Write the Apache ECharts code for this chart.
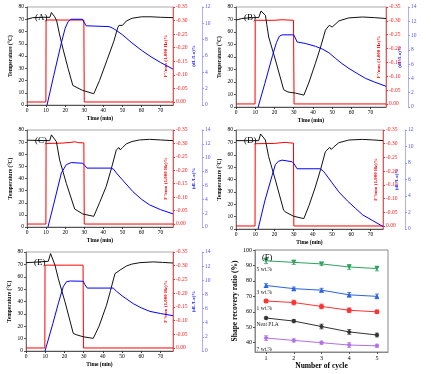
<!DOCTYPE html>
<html><head><meta charset="utf-8">
<script src="https://cdn.jsdelivr.net/npm/echarts@6/dist/echarts.min.js"></script>
<style>html,body{margin:0;padding:0;background:#fff}#c{width:431px;height:374px}</style>
</head><body><div id="c"></div>
<script>
// ---- Panels A-E: [time (min), value] ----
const tempA = [[0,70],[3,71.3],[8,71.6],[12,71.6],[12.8,75.5],[13.6,74.5],[14.5,72],[15.5,69],[17,58],[19,45],[21.5,30],[24,16],[25,14.5],[29,12],[30,11.5],[35,9.2],[38,20],[42,37],[45.5,52],[47.5,63],[48.2,65],[48.8,63.5],[50,65],[52,68.5],[55,70.8],[60,72],[65,72],[70,71.6],[76.5,71.3]];
const forceA = [[0,0],[9.9,0],[10,-0.302],[20,-0.302],[29.8,-0.302],[30,0],[76.5,0]];
const strainA = [[0,null],[10.5,0],[14,3.6],[18,7.6],[20,9.4],[21.5,10.2],[23,10.5],[29,10.5],[30,10.3],[31,9.7],[32,9.6],[43,9.6],[45,9.4],[47,9.1],[50,8.6],[55,7.6],[60,6.7],[65,5.9],[70,5.2],[76.5,4.4]];

const tempB = [[0,69.5],[3,70.8],[8,71.5],[11.8,71.5],[13,76.8],[14,76],[15.3,73.4],[16,66],[17,56],[20.5,37.6],[24.8,13.8],[27,12],[31,11.1],[35.3,9.5],[38,20],[41.3,35],[44,48],[46.5,61.5],[48.5,65.4],[50,64],[51.5,66],[53.5,68.9],[58.7,71.3],[65.7,72],[72,71.5],[78,70.8]];
const forceB = [[0,0],[9.9,0],[10,-0.302],[20,-0.302],[24,-0.304],[29.9,-0.302],[30.2,0],[78,0]];
const strainB = [[0,null],[11.5,0],[15,3.3],[19,7.2],[21,9],[22.5,9.9],[24,10.1],[30,10.1],[30.6,9.8],[31.8,9.1],[36,8.9],[41.3,8.5],[45,8.1],[48.3,7.6],[51.8,6.8],[55,6.1],[58.7,5.4],[63,4.7],[67.4,4.0],[72,3.5],[78,2.9]];

const tempC = [[0,71.6],[5,71.4],[11.9,71.2],[12.8,76],[13.6,75.5],[15.4,70.4],[17.1,55.3],[20.6,36],[25,14.8],[26,13.5],[29.3,10.7],[35,8.8],[38,20],[41.5,33.4],[44,47],[46.8,63.6],[48.2,65.5],[48.9,63.6],[50,65.5],[52,68.5],[55,70.5],[59,71.8],[64.2,72.3],[70,71.8],[76.5,71.2]];
const forceC = [[0,0],[9.9,0],[10,-0.30],[18,-0.301],[23,-0.304],[25,-0.306],[27,-0.303],[29.8,-0.302],[30,0],[76.5,0]];
const strainC = [[0,null],[11,0],[14,3.3],[18,7.8],[20.6,9.0],[23.2,9.3],[29.3,9.2],[30.2,9.0],[31.4,8.5],[44.2,8.5],[45.5,8.3],[46.8,7.8],[50,6.8],[55.5,5.1],[60,4.0],[64.2,3.2],[70,2.5],[76.5,1.9]];

const tempD = [[0,71.4],[5,71.4],[11.8,71.4],[12.8,76.8],[13.6,76.2],[15.3,71.9],[17,58.4],[20.5,39.5],[24.8,15.1],[26,13.5],[30,10.3],[35.3,8.4],[38,19],[41.3,34],[44,48],[46.5,62.4],[48.8,66],[49.6,64.3],[51,66.5],[53.5,69.7],[58.7,71.9],[65.7,72.4],[71,72],[76.5,71.4]];
const forceD = [[0,0],[9.9,0],[10,-0.30],[20,-0.301],[24,-0.304],[26,-0.305],[28,-0.303],[29.9,-0.302],[30.1,0],[76.5,0]];
const strainD = [[0,null],[11.5,0],[15,3.4],[18.8,6.5],[20.5,7.8],[22,8.2],[24,8.35],[29.2,8.15],[30.2,7.9],[31.8,7.3],[43.9,7.3],[45.5,7.0],[46.5,6.7],[50,5.6],[53.5,4.5],[58,3.4],[62.2,2.5],[66,1.7],[70.9,1.05],[76.5,0.3]];

const tempE = [[0,71.4],[5,71.8],[11.6,72.5],[12.8,78.7],[13.6,78],[15.1,69.3],[16.8,58.5],[20.3,39.7],[24.6,14.2],[25.5,15],[26.5,13],[29.8,11.5],[35,10.2],[38,20],[41.9,37],[44,49],[46.3,62.5],[47.1,63.9],[49,65.5],[52.3,68.7],[55,70.2],[59.3,71.4],[66.2,72],[71,71.6],[76.5,71.1]];
const forceE = [[0,0],[9.8,0],[9.9,-0.302],[20,-0.302],[29.7,-0.302],[29.9,0],[76.5,0]];
const strainE = [[0,null],[9.9,0],[14,3.9],[17,6.9],[19.4,9.1],[21.1,9.8],[23,9.9],[29.8,9.86],[30.6,9.4],[31.9,8.9],[45.4,8.9],[47.1,8.45],[50,7.8],[55.8,6.7],[60,6.1],[64.5,5.6],[70,5.3],[76.5,5.0]];

// ---- Panel F ----
const cycles = [1,2,3,4,5];
const wt5 = [93,92,91,89,88];      const wt5Err = [1.8,1.3,1.0,1.5,1.5];
const wt3 = [77,75,74,71,70];      const wt3Err = [1.2,1.0,1.2,1.5,1.5];
const wt1 = [67,66,63.5,61,60];    const wt1Err = [1.0,1.5,1.5,1.5,1.0];
const neat = [56,54,50.5,47,45];   const neatErr = [0.8,1.0,1.5,1.5,1.2];
const wt7 = [43,41.5,40,38.5,38];  const wt7Err = [1.5,1.0,1.0,1.5,1.0];

const FONT = 'Liberation Serif';
const panels = [
  {id:'(A)', g:{left:27,top:7,width:146,height:98}, xmax:76.5, smax:12, boff:29, temp:tempA, force:forceA, strain:strainA},
  {id:'(B)', g:{left:236,top:7,width:150,height:100}, xmax:78, smax:14, boff:22, temp:tempB, force:forceB, strain:strainB},
  {id:'(C)', g:{left:27,top:130,width:146,height:97}, xmax:76.5, smax:14, boff:29, temp:tempC, force:forceC, strain:strainC},
  {id:'(D)', g:{left:236,top:130,width:147,height:99}, xmax:76.5, smax:12, boff:22, temp:tempD, force:forceD, strain:strainD},
  {id:'(E)', g:{left:26,top:252,width:147,height:99}, xmax:76.5, smax:14, boff:29, temp:tempE, force:forceE, strain:strainE}
];

const grid=[], xAxis=[], yAxis=[], series=[], title=[];
const lab = {fontFamily:FONT, fontSize:5.5};
panels.forEach((p,i)=>{
  grid.push(Object.assign({show:true, borderColor:'#aaa', borderWidth:1, containLabel:false}, p.g));
  xAxis.push({type:'value', gridIndex:i, min:0, max:p.xmax, interval:10,
    name:'Time (min)', nameLocation:'middle', nameGap:11,
    nameTextStyle:{fontFamily:FONT, fontSize:5.5, fontWeight:'bold', color:'#000'},
    axisLine:{lineStyle:{color:'#333', width:0.8}}, axisTick:{length:2, lineStyle:{color:'#333'}},
    axisLabel:Object.assign({color:'#000', margin:3, showMaxLabel:false}, lab), splitLine:{show:false}});
  const yi = yAxis.length;
  yAxis.push({type:'value', gridIndex:i, min:0, max:80, interval:10, position:'left',
    name:'Temperature (°C)', nameLocation:'middle', nameGap:13,
    nameTextStyle:{fontFamily:FONT, fontSize:5.5, fontWeight:'bold', color:'#000'},
    axisLine:{show:true, lineStyle:{color:'#555', width:0.8}}, axisTick:{length:2, lineStyle:{color:'#555'}},
    axisLabel:Object.assign({color:'#000', margin:3}, lab), splitLine:{show:false}});
  yAxis.push({type:'value', gridIndex:i, min:-0.35, max:0.011, inverse:true, position:'right',
    name:"F'/mm (1,000 Hz)%", nameLocation:'middle', nameGap:-10,
    nameTextStyle:{fontFamily:FONT, fontSize:5, fontWeight:'bold', color:'#ff0000'},
    axisLine:{show:true, lineStyle:{color:'#ff3030', width:0.8}},
    axisTick:{length:2, lineStyle:{color:'#ff3030'}, customValues:[-0.35,-0.3,-0.25,-0.2,-0.15,-0.1,-0.05,0]},
    axisLabel:Object.assign({color:'#ff2020', margin:3, formatter:v=>v.toFixed(2), customValues:[-0.35,-0.3,-0.25,-0.2,-0.15,-0.1,-0.05,0]}, lab),
    splitLine:{show:false}});
  yAxis.push({type:'value', gridIndex:i, min:0, max:p.smax, interval:2, position:'right', offset:p.boff,
    name:'(dL/Lo)%', nameLocation:'middle', nameGap:-11,
    nameTextStyle:{fontFamily:FONT, fontSize:5, fontWeight:'bold', color:'#2020ff'},
    axisLine:{show:true, lineStyle:{color:'#9a9aff', width:0.8}}, axisTick:{length:2, lineStyle:{color:'#9a9aff'}},
    axisLabel:Object.assign({color:'#5555ff', margin:3}, lab), splitLine:{show:false}});
  series.push({type:'line', xAxisIndex:i, yAxisIndex:yi+1, data:p.force, showSymbol:false, symbol:'none',
    lineStyle:{color:'#ff0000', width:1}, z:3});
  series.push({type:'line', xAxisIndex:i, yAxisIndex:yi, data:p.temp, showSymbol:false, symbol:'none',
    lineStyle:{color:'#111', width:1}, z:4});
  series.push({type:'line', xAxisIndex:i, yAxisIndex:yi+2, data:p.strain, showSymbol:false, symbol:'none', connectNulls:false,
    lineStyle:{color:'#0000ff', width:1}, z:5});
  title.push({text:p.id, left:p.g.left+3, top:p.g.top+1, textStyle:{fontFamily:FONT, fontSize:9, fontWeight:'normal', color:'#000'}});
});

// Panel F
const fi = panels.length;
grid.push({show:true, borderColor:'#888', borderWidth:1, left:255, top:250, width:133, height:102});
xAxis.push({type:'value', gridIndex:fi, min:0.6, max:5.4, name:'Number of cycle', nameLocation:'middle', nameGap:10,
  nameTextStyle:{fontFamily:FONT, fontSize:7.5, fontWeight:'bold', color:'#000'},
  axisLine:{lineStyle:{color:'#888'}}, axisTick:{length:2, lineStyle:{color:'#555'}, customValues:cycles},
  axisLabel:{fontFamily:FONT, fontSize:6, color:'#000', margin:3, customValues:cycles}, splitLine:{show:false}});
const fy = yAxis.length;
yAxis.push({type:'value', gridIndex:fi, min:34, max:100, position:'left',
  name:'Shape recovery ratio (%)', nameLocation:'middle', nameGap:12,
  nameTextStyle:{fontFamily:FONT, fontSize:7.5, fontWeight:'bold', color:'#000'},
  axisLine:{show:true, lineStyle:{color:'#888'}}, axisTick:{length:2, lineStyle:{color:'#555'}, customValues:[40,50,60,70,80,90,100]},
  axisLabel:{fontFamily:FONT, fontSize:6, color:'#000', margin:3, customValues:[40,50,60,70,80,90,100]}, splitLine:{show:false}});

const fSeries = [
  {name:'5 wt.%', vals:wt5, err:wt5Err, color:'#2ca25f', sym:'triangle', rot:180, dy:8.5},
  {name:'3 wt.%', vals:wt3, err:wt3Err, color:'#2a64e0', sym:'triangle', rot:0, dy:7},
  {name:'1 wt.%', vals:wt1, err:wt1Err, color:'#ff3333', sym:'circle', rot:0, dy:7.5},
  {name:'Neat PLA', vals:neat, err:neatErr, color:'#333333', sym:'diamond', rot:0, dy:6.5},
  {name:'7 wt.%', vals:wt7, err:wt7Err, color:'#b36ee8', sym:'diamond', rot:0, dy:11}
];
function errRender(params, api){
  const x=api.value(0), y=api.value(1), e=api.value(2);
  const a=api.coord([x,y+e]), b=api.coord([x,y-e]);
  const c = api.visual('color');
  return {type:'group', children:[
    {type:'line', shape:{x1:a[0],y1:a[1],x2:b[0],y2:b[1]}, style:{stroke:c, lineWidth:0.8}},
    {type:'line', shape:{x1:a[0]-2,y1:a[1],x2:a[0]+2,y2:a[1]}, style:{stroke:c, lineWidth:0.8}},
    {type:'line', shape:{x1:b[0]-2,y1:b[1],x2:b[0]+2,y2:b[1]}, style:{stroke:c, lineWidth:0.8}}
  ]};
}
fSeries.forEach(s=>{
  series.push({type:'line', xAxisIndex:fi, yAxisIndex:fy, symbol:s.sym, symbolSize:5, symbolRotate:s.rot,
    itemStyle:{color:s.color}, lineStyle:{color:s.color, width:1},
    data:cycles.map((c,k)=>{
      const d={value:[c,s.vals[k]]};
      if(k===0) d.label={show:true, position:[-7, s.dy], align:'left', verticalAlign:'top', formatter:s.name, fontFamily:FONT, fontSize:5.5, color:'#222'};
      return d;
    }), z:3});
  series.push({type:'custom', xAxisIndex:fi, yAxisIndex:fy, renderItem:errRender, itemStyle:{color:s.color},
    data:cycles.map((c,k)=>[c, s.vals[k], s.err[k]]), z:2});
});
title.push({text:'(F)', left:257, top:248, textStyle:{fontFamily:FONT, fontSize:8.5, fontWeight:'normal', color:'#000'}});

const chart = echarts.init(document.getElementById('c'), null, {renderer:'canvas'});
chart.setOption({animation:false, backgroundColor:'#fff', title, grid, xAxis, yAxis, series});
</script></body></html>
